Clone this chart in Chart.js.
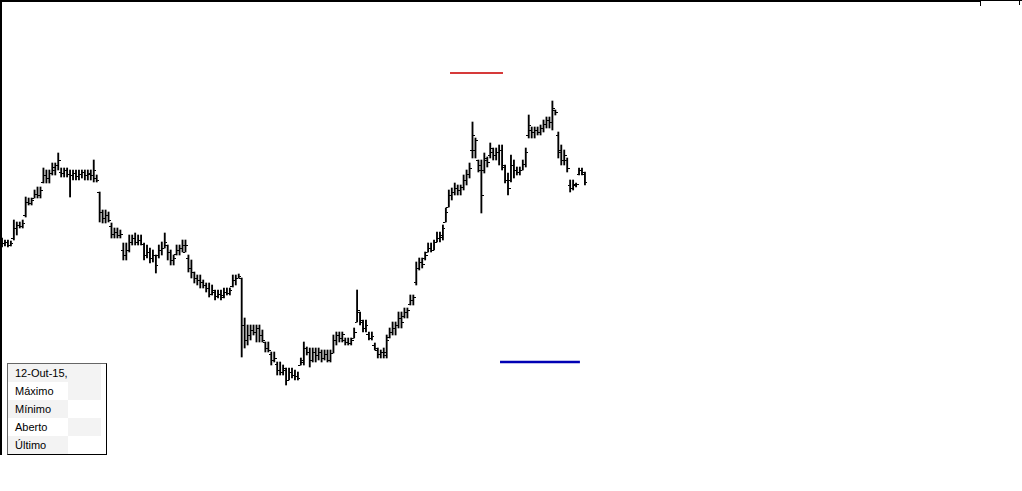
<!DOCTYPE html>
<html>
<head>
<meta charset="utf-8">
<script src="https://cdn.jsdelivr.net/npm/chart.js@4.4.1/dist/chart.umd.min.js"></script>
<style>
  html, body { margin: 0; padding: 0; background: #fff; }
  #wrap { position: relative; width: 1022px; height: 491px; overflow: hidden; }
  canvas { position: absolute; left: 0; top: 0; }
  .rule { position: absolute; background: #000; }
  #info { position: absolute; left: 7px; top: 363px; width: 98px; height: 90px;
          border-left: 1px solid #666; border-top: 1px solid #666;
          border-right: 1px solid #000; border-bottom: 1px solid #000;
          background: #fff; font-family: "Liberation Sans", Arial, sans-serif; font-size: 11px; color: #000; }
  #info .row { position: absolute; left: 0; width: 93px; height: 18px; line-height: 18px; }
  #info .lab { position: absolute; left: 0; top: 0; width: 60px; height: 18px; padding-left: 7px; box-sizing: border-box; }
  #info .val { position: absolute; left: 60px; top: 0; width: 33px; height: 18px; }
  .g { background: #f3f3f3; }
</style>
</head>
<body>
<div id="wrap">
  <canvas id="c" width="1022" height="491"></canvas>
  <div class="rule" style="left:0;top:0;width:980px;height:2px"></div>
  <div class="rule" style="left:980px;top:0;width:42px;height:1px"></div>
  <div class="rule" style="left:980px;top:0;width:1px;height:6px"></div>
  <div class="rule" style="left:1019px;top:0;width:1px;height:5px"></div>
  <div class="rule" style="left:0;top:0;width:2px;height:455px"></div>
  <div id="info"></div>
</div>
<script>
// ---- data (price units) ----
const openVals = [
255,257,258,255,262,272,275,274,285,298,
297,302,306,305,318,325,322,327,330,335,
328,327,330,326,325,327,324,326,328,325,
326,325,322,308,288,282,285,274,266,268,
265,250,245,250,258,262,258,260,256,245,
248,242,245,245,250,252,255,248,240,246,
250,252,248,242,232,228,222,220,218,215,
212,206,208,204,206,205,208,207,214,220,
222,222,175,160,165,170,168,172,165,158,
152,146,140,136,130,128,130,120,128,125,
124,135,138,152,148,140,148,145,148,142,
146,140,147,160,165,162,160,158,157,162,
178,188,178,172,166,162,155,150,146,148,
148,163,168,172,175,182,184,188,196,200,
218,232,238,242,248,252,250,258,262,263,
278,293,305,308,312,310,313,320,326,350,
350,340,330,330,340,345,348,345,348,350,
333,320,320,335,330,328,330,336,365,370,
368,370,368,372,376,380,378,390,365,348,
340,340,315,312,315,326,330,326];
const highVals = [
262,260,260,259,280,278,278,280,303,302,
302,310,313,313,332,330,330,337,337,347,
332,332,332,330,330,330,330,330,330,330,
330,340,325,308,290,290,288,277,272,272,
270,257,257,265,265,267,265,265,257,255,
252,250,245,255,258,267,255,250,245,255,
255,260,260,245,240,228,225,225,220,217,
217,215,210,210,210,212,212,212,225,225,
226,222,182,175,175,175,175,175,170,158,
158,148,148,138,138,135,132,132,132,130,
128,142,158,153,152,152,152,152,150,150,
150,150,165,168,168,168,162,162,162,172,
210,188,180,180,168,168,157,152,150,152,
165,172,178,178,188,188,192,192,205,205,
238,242,242,248,257,257,260,268,268,275,
292,310,312,317,315,315,325,330,337,378,
362,340,340,347,343,357,352,352,355,355,
335,327,345,340,333,333,340,352,385,373,
373,373,375,380,383,383,399,390,368,355,
350,342,320,320,317,332,332,328];
const lowVals = [
253,254,253,254,260,265,272,272,283,295,
295,302,302,302,317,317,317,325,325,330,
323,323,323,303,320,320,320,322,320,320,
320,318,318,278,277,277,278,262,262,262,
262,240,240,248,255,255,255,255,240,242,
237,238,227,242,245,252,240,235,235,245,
245,248,248,228,222,217,215,212,212,208,
203,205,200,202,200,202,205,205,213,215,
222,143,152,155,160,165,158,158,158,148,
148,135,138,125,125,125,115,120,122,120,
120,135,135,145,133,138,138,140,138,140,
138,138,147,155,158,158,155,155,155,162,
178,175,168,168,160,160,150,142,142,142,
142,162,165,165,172,172,182,182,195,195,
215,230,232,240,248,248,250,258,258,260,
278,293,300,305,305,305,310,315,322,342,
342,328,287,327,333,342,340,340,335,330,
317,305,318,322,325,325,330,333,362,362,
362,365,365,368,372,372,370,385,342,335,
335,328,308,310,313,325,325,315];
const closeVals = [
257,258,255,257,272,275,274,277,298,297,
300,306,305,310,325,322,327,333,335,340,
327,330,326,325,327,324,326,328,325,327,
325,330,320,288,282,285,280,266,268,265,
266,245,250,258,262,258,260,256,245,248,
242,245,235,250,252,258,248,240,242,250,
252,255,255,232,228,222,220,218,215,212,
206,210,204,206,203,208,207,210,220,222,
224,175,160,165,170,168,172,165,160,152,
150,140,142,130,128,132,120,128,125,124,
122,140,152,148,140,148,145,148,142,146,
140,147,160,165,162,166,158,157,160,168,
190,180,172,175,162,164,152,146,148,145,
160,168,172,175,182,178,188,190,200,203,
232,238,236,245,252,250,258,262,265,272,
288,305,308,312,310,313,320,326,332,365,
360,335,305,342,338,352,345,348,350,335,
320,312,335,330,328,330,336,348,375,368,
370,368,372,376,380,378,392,388,350,340,
345,332,312,316,316,330,328,318];

// reference levels (red above, blue below) with the bar index span they cover
const redLevel = 427, redFrom = 151.4, redTo = 169.3;
const blueLevel = 138, blueFrom = 168.3, blueTo = 195.3;

// info box texts
const infoDate = "12-Out-15,";
const infoLabels = ["Máximo", "Mínimo", "Aberto", "Último"];

// ---- info box ----
(function () {
  const box = document.getElementById('info');
  const rows = [infoDate].concat(infoLabels);
  rows.forEach((t, r) => {
    const row = document.createElement('div');
    row.className = 'row';
    row.style.top = (r * 18) + 'px';
    const lab = document.createElement('div');
    lab.className = 'lab';
    lab.textContent = t;
    const val = document.createElement('div');
    val.className = 'val';
    if (r === 0) { lab.classList.add('g'); lab.style.width = '93px'; }
    else if (r % 2 === 1) { val.classList.add('g'); }
    else { lab.classList.add('g'); }
    row.appendChild(lab);
    if (r !== 0) row.appendChild(val);
    box.appendChild(row);
  });
})();

// ---- tick glyphs for open (left) and close (right); row 1 lands on the exact pixel row ----
function tick(side) {
  const cv = document.createElement('canvas');
  cv.width = 5; cv.height = 2;
  const g = cv.getContext('2d');
  g.fillStyle = '#000';
  if (side === 'left') g.fillRect(0, 1, 2, 1); else g.fillRect(3, 1, 2, 1);
  return cv;
}
const leftTick = tick('left'), rightTick = tick('right');

const idx = closeVals.map((_, i) => i);

new Chart(document.getElementById('c'), {
  data: {
    datasets: [
      {
        type: 'bar',
        data: idx.map(i => ({ x: i, y: [lowVals[i], highVals[i]] })),
        backgroundColor: '#000',
        borderWidth: 0,
        barThickness: 1.2,
        grouped: false
      },
      {
        type: 'scatter',
        data: idx.map(i => ({ x: i, y: openVals[i] })),
        pointStyle: leftTick, pointRadius: 2, pointHoverRadius: 2
      },
      {
        type: 'scatter',
        data: idx.map(i => ({ x: i, y: closeVals[i] })),
        pointStyle: rightTick, pointRadius: 2, pointHoverRadius: 2
      },
      {
        type: 'line',
        data: [{ x: redFrom, y: redLevel }, { x: redTo, y: redLevel }],
        borderColor: '#d63a3a', borderWidth: 2, pointRadius: 0
      },
      {
        type: 'line',
        data: [{ x: blueFrom, y: blueLevel }, { x: blueTo, y: blueLevel }],
        borderColor: '#0000b4', borderWidth: 2.5, pointRadius: 0
      }
    ]
  },
  options: {
    responsive: false,
    animation: false,
    events: [],
    layout: { padding: 0, autoPadding: false },
    plugins: { legend: { display: false }, tooltip: { enabled: false } },
    scales: {
      x: { type: 'linear', display: false, min: -0.68, max: 344.7, offset: false },
      y: { type: 'linear', display: false, min: 9, max: 500 }
    }
  }
});
</script>
</body>
</html>
